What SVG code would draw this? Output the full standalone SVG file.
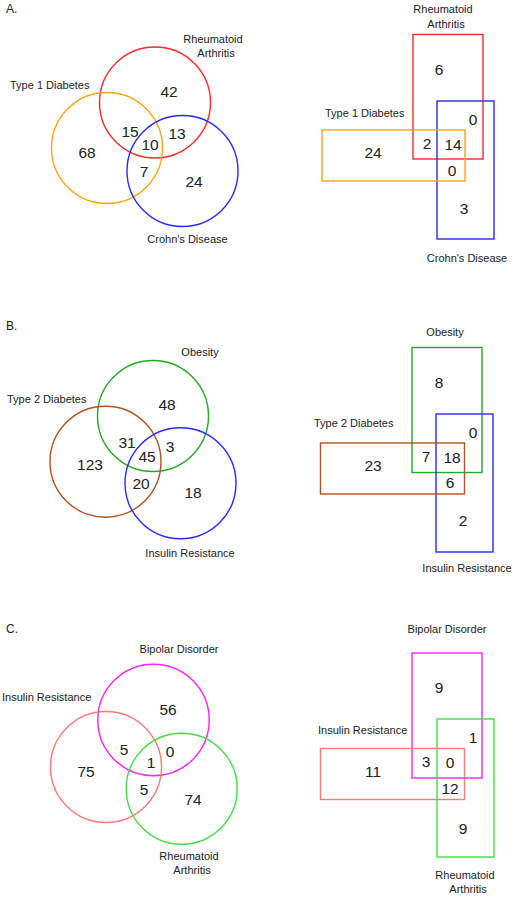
<svg xmlns="http://www.w3.org/2000/svg" width="512" height="901" viewBox="0 0 512 901">
<style>
.lbl{font-family:"Liberation Sans",Arial,sans-serif;font-size:11px;fill:#222}
.num{font-family:"Liberation Sans",Arial,sans-serif;font-size:15.5px;fill:#222;text-anchor:middle}
.pl{font-family:"Liberation Sans",Arial,sans-serif;font-size:12px;fill:#222}
.c{text-anchor:middle}
.s{fill:none;stroke-width:1.4}
</style>
<rect width="512" height="901" fill="#fff"/>
<text class="pl" x="6" y="13">A.</text>
<text class="pl" x="6" y="330">B.</text>
<text class="pl" x="6" y="633">C.</text>

<!-- Panel A left -->
<g id="A-venn">
<circle class="s" cx="155" cy="102.5" r="55.5" stroke="#ff2a2a"/>
<circle class="s" cx="107" cy="148" r="55.5" stroke="#ffa31a"/>
<circle class="s" cx="182.5" cy="171" r="55.5" stroke="#2a2aff"/>
<text class="lbl c" x="213" y="43">Rheumatoid</text>
<text class="lbl c" x="216" y="57">Arthritis</text>
<text class="lbl" x="10" y="89">Type 1 Diabetes</text>
<text class="lbl c" x="187.5" y="243">Crohn's Disease</text>
<text class="num" x="169" y="97">42</text>
<text class="num" x="130" y="137">15</text>
<text class="num" x="177" y="139">13</text>
<text class="num" x="150" y="150">10</text>
<text class="num" x="87" y="158">68</text>
<text class="num" x="144" y="177">7</text>
<text class="num" x="194" y="187">24</text>
</g>

<!-- Panel A right -->
<g id="A-rect">
<rect class="s" x="413" y="34.5" width="70" height="124.5" stroke="#ff2a2a"/>
<rect class="s" x="437" y="101" width="57" height="138" stroke="#2a2aff"/>
<rect class="s" x="322" y="130" width="143" height="51" stroke="#ffa31a"/>
<text class="lbl c" x="443" y="13">Rheumatoid</text>
<text class="lbl c" x="446" y="28">Arthritis</text>
<text class="lbl" x="325" y="117">Type 1 Diabetes</text>
<text class="lbl c" x="467" y="262">Crohn's Disease</text>
<text class="num" x="439" y="75">6</text>
<text class="num" x="473" y="125">0</text>
<text class="num" x="427" y="149">2</text>
<text class="num" x="453" y="150">14</text>
<text class="num" x="373" y="158">24</text>
<text class="num" x="452" y="176">0</text>
<text class="num" x="464" y="214">3</text>
</g>

<!-- Panel B left -->
<g id="B-venn">
<circle class="s" cx="153" cy="416" r="55.5" stroke="#22aa22"/>
<circle class="s" cx="105.5" cy="461.7" r="55.5" stroke="#b4521e"/>
<circle class="s" cx="180.5" cy="483.3" r="55.5" stroke="#2a2aff"/>
<text class="lbl c" x="200" y="356">Obesity</text>
<text class="lbl" x="7" y="403">Type 2 Diabetes</text>
<text class="lbl c" x="190" y="557">Insulin Resistance</text>
<text class="num" x="167" y="410">48</text>
<text class="num" x="127" y="448">31</text>
<text class="num" x="170" y="452">3</text>
<text class="num" x="147" y="462">45</text>
<text class="num" x="90" y="470">123</text>
<text class="num" x="141" y="489">20</text>
<text class="num" x="193" y="498">18</text>
</g>

<!-- Panel B right -->
<g id="B-rect">
<rect class="s" x="412" y="347.5" width="70" height="125" stroke="#22aa22"/>
<rect class="s" x="436" y="414" width="57" height="138" stroke="#2a2aff"/>
<rect class="s" x="320.5" y="443" width="144" height="51" stroke="#b4521e"/>
<text class="lbl c" x="445" y="336">Obesity</text>
<text class="lbl" x="314" y="427">Type 2 Diabetes</text>
<text class="lbl c" x="467" y="572">Insulin Resistance</text>
<text class="num" x="439" y="388">8</text>
<text class="num" x="473" y="438">0</text>
<text class="num" x="426" y="462">7</text>
<text class="num" x="452" y="463">18</text>
<text class="num" x="373" y="471">23</text>
<text class="num" x="450" y="488">6</text>
<text class="num" x="463" y="526">2</text>
</g>

<!-- Panel C left -->
<g id="C-venn">
<circle class="s" cx="153.5" cy="720" r="55.7" stroke="#ff22ff"/>
<circle class="s" cx="106" cy="767" r="55.5" stroke="#ff7a7a"/>
<circle class="s" cx="181.7" cy="788.7" r="55.5" stroke="#44dd44"/>
<text class="lbl c" x="179" y="653">Bipolar Disorder</text>
<text class="lbl" x="2" y="701">Insulin Resistance</text>
<text class="lbl c" x="189" y="860">Rheumatoid</text>
<text class="lbl c" x="192" y="874">Arthritis</text>
<text class="num" x="168" y="715">56</text>
<text class="num" x="124" y="755">5</text>
<text class="num" x="170" y="757">0</text>
<text class="num" x="151" y="768">1</text>
<text class="num" x="86" y="777">75</text>
<text class="num" x="144" y="795">5</text>
<text class="num" x="193" y="805">74</text>
</g>

<!-- Panel C right -->
<g id="C-rect">
<rect class="s" x="412" y="653" width="70" height="125" stroke="#ff22ff"/>
<rect class="s" x="437" y="719" width="57" height="138" stroke="#44dd44"/>
<rect class="s" x="320.5" y="748.5" width="144" height="51" stroke="#ff7a7a"/>
<text class="lbl c" x="447" y="633">Bipolar Disorder</text>
<text class="lbl" x="318" y="734">Insulin Resistance</text>
<text class="lbl c" x="465" y="879">Rheumatoid</text>
<text class="lbl c" x="468" y="893">Arthritis</text>
<text class="num" x="439" y="693">9</text>
<text class="num" x="473" y="743">1</text>
<text class="num" x="426" y="767">3</text>
<text class="num" x="450" y="768">0</text>
<text class="num" x="373" y="777">11</text>
<text class="num" x="450" y="794">12</text>
<text class="num" x="463" y="834">9</text>
</g>
<g id="connectors"/>
</svg>
